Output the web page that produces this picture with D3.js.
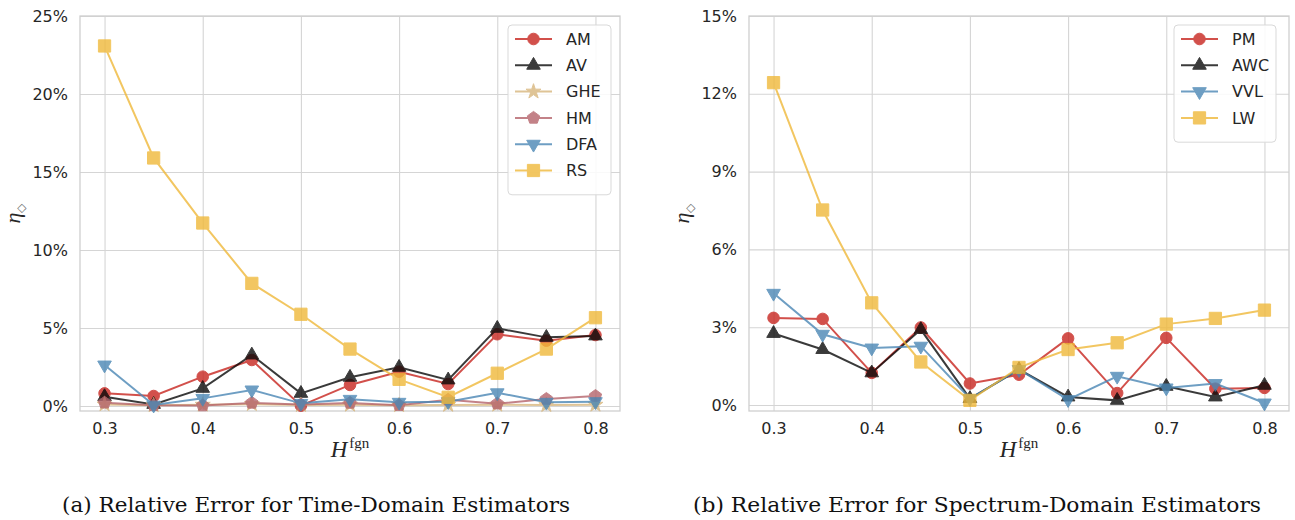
<!DOCTYPE html>
<html>
<head>
<meta charset="utf-8">
<script src="https://cdn.jsdelivr.net/npm/d3@7"></script>
<style>
  body { margin: 0; background: #fff; }
  text { font-family: "DejaVu Sans", sans-serif; fill: #262626; }
</style>
</head>
<body>
<svg id="chart" width="1295" height="520"></svg>
<script>
// Hurst parameter values on the x axis
const hValues = [0.3, 0.35, 0.4, 0.45, 0.5, 0.55, 0.6, 0.65, 0.7, 0.75, 0.8]

// (a) time-domain estimators, relative error
const amValues = [0.0081, 0.0064, 0.0188, 0.0295, 0.0002, 0.0135, 0.0220, 0.0141, 0.0460, 0.0419, 0.0455]
const avValues = [0.0060, 0.0010, 0.0113, 0.0327, 0.0081, 0.0184, 0.0248, 0.0167, 0.0498, 0.0440, 0.0449]
const gheValues = [0.0010, 0.0005, 0.0008, 0.0012, 0.0006, 0.0008, 0.0005, 0.0007, 0.0008, 0.0006, 0.0008]
const hmValues = [0.0021, 0.0005, 0.0003, 0.0020, 0.0010, 0.0020, 0.0005, 0.0040, 0.0015, 0.0045, 0.0064]
const dfaValues = [0.0263, 0.0006, 0.0049, 0.0103, 0.0017, 0.0043, 0.0024, 0.0028, 0.0085, 0.0024, 0.0028]
const rsValues = [0.2308, 0.1590, 0.1173, 0.0786, 0.0588, 0.0365, 0.0171, 0.0056, 0.0210, 0.0365, 0.0566]

// (b) spectrum-domain estimators, relative error
const pmValues = [0.0336, 0.0332, 0.0124, 0.0299, 0.0083, 0.0117, 0.0257, 0.0046, 0.0259, 0.0063, 0.0066]
const awcValues = [0.0276, 0.0214, 0.0124, 0.0291, 0.0025, 0.0137, 0.0031, 0.0018, 0.0072, 0.0031, 0.0076]
const vvlValues = [0.0431, 0.0273, 0.0220, 0.0227, 0.0025, 0.0137, 0.0021, 0.0111, 0.0066, 0.0083, 0.0008]
const lwValues = [0.1243, 0.0752, 0.0394, 0.0166, 0.0018, 0.0145, 0.0214, 0.0240, 0.0312, 0.0334, 0.0366]

const timeTicks = [0, 0.05, 0.10, 0.15, 0.20, 0.25]
const spectrumTicks = [0, 0.03, 0.06, 0.09, 0.12, 0.15]
const xTicks = [0.3, 0.4, 0.5, 0.6, 0.7, 0.8]

const colors = {
  red: '#c8251f',
  black: '#0a0a0a',
  tan: '#d8b67c',
  rose: '#b5646b',
  blue: '#4a87b5',
  yellow: '#f0b93a'
}

// pentagon marker for HM
const symbolPentagon = {
  draw(context, size) {
    const r = Math.sqrt(size / 2.3776)
    for (let i = 0; i < 5; i++) {
      const a = -Math.PI / 2 + i * 2 * Math.PI / 5
      const x = r * Math.cos(a)
      const y = r * Math.sin(a)
      if (i === 0) context.moveTo(x, y)
      else context.lineTo(x, y)
    }
    context.closePath()
  }
}

const markers = {
  circle: { type: d3.symbolCircle, size: 105, rotate: 0 },
  up: { type: d3.symbolTriangle, size: 80, rotate: 0 },
  star: { type: d3.symbolStar, size: 70, rotate: 0 },
  pentagon: { type: symbolPentagon, size: 100, rotate: 0 },
  down: { type: d3.symbolTriangle, size: 80, rotate: 180 },
  square: { type: d3.symbolSquare, size: 150, rotate: 0 }
}

const svg = d3.select('#chart')

function drawPanel(opts) {
  const { left, right, top, bottom } = opts.frame
  const width = right - left
  const g = svg.append('g')

  const xPositionScale = d3.scaleLinear().domain([0.275, 0.825]).range([left, right])
  const yPositionScale = d3.scaleLinear().domain(opts.yDomain).range([bottom, top])

  // grid + tick labels
  const yAxis = d3.axisLeft(yPositionScale)
    .tickValues(opts.yTicks)
    .tickSize(-width)
    .tickPadding(12)
    .tickFormat(d3.format('.0%'))
  g.append('g')
    .attr('class', 'axis y-axis')
    .attr('transform', 'translate(' + left + ',0)')
    .call(yAxis)

  const xAxis = d3.axisBottom(xPositionScale)
    .tickValues(xTicks)
    .tickSize(-(bottom - top))
    .tickPadding(12)
    .tickFormat(d3.format('.1f'))
  g.append('g')
    .attr('class', 'axis x-axis')
    .attr('transform', 'translate(0,' + bottom + ')')
    .call(xAxis)

  g.selectAll('.axis .domain').remove()
  g.selectAll('.axis line').attr('stroke', '#d5d5d5').attr('stroke-width', 1.1)
  g.selectAll('.axis text')
    .attr('font-size', 16)
    .attr('font-family', '"DejaVu Sans", sans-serif')
    .attr('fill', '#262626')

  // frame
  g.append('rect')
    .attr('x', left)
    .attr('y', top)
    .attr('width', width)
    .attr('height', bottom - top)
    .attr('fill', 'none')
    .attr('stroke', '#cfcfcf')
    .attr('stroke-width', 1.3)

  const line = d3.line()
    .x((d, i) => xPositionScale(hValues[i]))
    .y(d => yPositionScale(d))

  opts.series.forEach(s => {
    const sg = g.append('g').attr('opacity', 0.8)
    sg.append('path')
      .datum(s.values)
      .attr('d', line)
      .attr('fill', 'none')
      .attr('stroke', s.color)
      .attr('stroke-width', 2)
    const m = markers[s.marker]
    sg.selectAll('.pt')
      .data(s.values)
      .enter()
      .append('path')
      .attr('class', 'pt')
      .attr('d', d3.symbol().type(m.type).size(m.size))
      .attr('transform', (d, i) => 'translate(' + xPositionScale(hValues[i]) + ',' + yPositionScale(d) + ') rotate(' + m.rotate + ')')
      .attr('fill', s.color)
      .attr('stroke', s.color)
      .attr('stroke-width', 1)
  })

  // legend
  const lg = opts.legend
  g.append('rect')
    .attr('x', lg.x)
    .attr('y', lg.y)
    .attr('width', lg.width)
    .attr('height', 12 + opts.series.length * 26.3)
    .attr('rx', 4)
    .attr('fill', '#fff')
    .attr('fill-opacity', 0.85)
    .attr('stroke', '#d9d9d9')

  opts.series.forEach((s, i) => {
    const y = lg.y + 14 + i * 26.3
    const eg = g.append('g').attr('opacity', 0.8)
    eg.append('line')
      .attr('x1', lg.x + 7)
      .attr('x2', lg.x + 44)
      .attr('y1', y)
      .attr('y2', y)
      .attr('stroke', s.color)
      .attr('stroke-width', 2)
    const m = markers[s.marker]
    eg.append('path')
      .attr('d', d3.symbol().type(m.type).size(m.size)())
      .attr('transform', 'translate(' + (lg.x + 25.5) + ',' + y + ') rotate(' + m.rotate + ')')
      .attr('fill', s.color)
      .attr('stroke', s.color)
    g.append('text')
      .attr('x', lg.x + 58)
      .attr('y', y)
      .attr('dy', '0.36em')
      .attr('font-size', 16)
      .text(s.name)
  })

  // axis labels
  const cx = (left + right) / 2
  const xl = g.append('text')
    .attr('x', cx)
    .attr('y', 457)
    .attr('text-anchor', 'middle')
    .style('font-family', '"Liberation Serif", serif')
  xl.append('tspan').attr('font-size', 23).attr('font-style', 'italic').text('H')
  xl.append('tspan').attr('font-size', 15).attr('dy', -9).attr('dx', 2).text('fgn')

  const yl = g.append('text')
    .attr('transform', 'translate(' + (left - 60) + ',' + ((top + bottom) / 2) + ') rotate(-90)')
    .attr('text-anchor', 'middle')
    .style('font-family', '"Liberation Serif", serif')
  yl.append('tspan').attr('font-size', 22).attr('font-style', 'italic').text('η')
  yl.append('tspan').attr('font-size', 12).attr('dy', 5).style('fill', '#777').text('◇')

  // caption
  svg.append('text')
    .attr('x', opts.captionX)
    .attr('y', 512)
    .attr('text-anchor', 'middle')
    .attr('font-size', 19.5)
    .attr('textLength', opts.captionWidth)
    .attr('lengthAdjust', 'spacingAndGlyphs')
    .style('font-family', '"DejaVu Serif", serif')
    .style('fill', '#111')
    .text(opts.caption)
}

drawPanel({
  frame: { left: 80, right: 620, top: 16, bottom: 411 },
  yDomain: [-0.0032, 0.25],
  yTicks: timeTicks,
  legend: { x: 508, y: 25, width: 103 },
  series: [
    { name: 'AM', values: amValues, color: colors.red, marker: 'circle' },
    { name: 'AV', values: avValues, color: colors.black, marker: 'up' },
    { name: 'GHE', values: gheValues, color: colors.tan, marker: 'star' },
    { name: 'HM', values: hmValues, color: colors.rose, marker: 'pentagon' },
    { name: 'DFA', values: dfaValues, color: colors.blue, marker: 'down' },
    { name: 'RS', values: rsValues, color: colors.yellow, marker: 'square' }
  ],
  caption: '(a) Relative Error for Time-Domain Estimators',
  captionX: 316,
  captionWidth: 508
})

drawPanel({
  frame: { left: 749, right: 1289, top: 16, bottom: 411 },
  yDomain: [-0.0023, 0.15],
  yTicks: spectrumTicks,
  legend: { x: 1174, y: 25, width: 102 },
  series: [
    { name: 'PM', values: pmValues, color: colors.red, marker: 'circle' },
    { name: 'AWC', values: awcValues, color: colors.black, marker: 'up' },
    { name: 'VVL', values: vvlValues, color: colors.blue, marker: 'down' },
    { name: 'LW', values: lwValues, color: colors.yellow, marker: 'square' }
  ],
  caption: '(b) Relative Error for Spectrum-Domain Estimators',
  captionX: 977,
  captionWidth: 568
})
</script>
</body>
</html>
